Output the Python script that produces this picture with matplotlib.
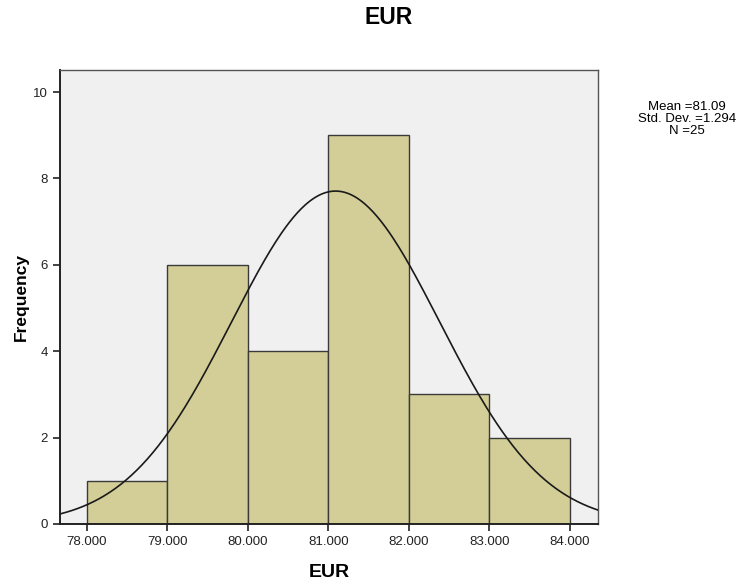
import numpy as np
import matplotlib.pyplot as plt

bin_edges = [78.0, 79.0, 80.0, 81.0, 82.0, 83.0, 84.0]
counts = [1, 6, 4, 9, 3, 2]
mean = 81.09
std = 1.294
n = 25
x_ticks = [78, 79, 80, 81, 82, 83, 84]
x_tick_labels = ["78.000", "79.000", "80.000", "81.000", "82.000", "83.000", "84.000"]
y_ticks = [0, 2, 4, 6, 8, 10]


def main() -> None:
    plt.rcParams["font.family"] = ["Liberation Sans", "DejaVu Sans"]
    fig = plt.figure(figsize=(7.45, 5.85), dpi=100)
    ax = fig.add_axes([0.0805, 0.1043, 0.7221, 0.776])
    ax.set_facecolor("#F0F0F0")

    lefts = bin_edges[:-1]
    widths = np.diff(bin_edges)
    ax.bar(lefts, counts, width=widths, align="edge", color="#D3CE97",
           edgecolor="#3A3A3A", linewidth=1.0, zorder=2)

    # normal curve scaled to counts
    xs = np.linspace(77.665, 84.35, 400)
    bw = bin_edges[1] - bin_edges[0]
    ys = n * bw / (std * np.sqrt(2 * np.pi)) * np.exp(-0.5 * ((xs - mean) / std) ** 2)
    ax.plot(xs, ys, color="#1A1A1A", linewidth=1.2, zorder=3)

    ax.set_xlim(77.665, 84.35)
    ax.set_ylim(0, 10.51)
    ax.set_xticks(x_ticks)
    ax.set_xticklabels(x_tick_labels)
    ax.set_yticks(y_ticks)
    ax.tick_params(axis="both", direction="out", length=5, width=1.2,
                   labelsize=9.5, colors="#222222")
    for side in ["left", "bottom"]:
        ax.spines[side].set_color("#222222")
        ax.spines[side].set_linewidth(1.4)
    for side in ["top", "right"]:
        ax.spines[side].set_color("#555555")
        ax.spines[side].set_linewidth(1.0)

    ax.set_xlabel("EUR", fontsize=14, fontweight="bold", labelpad=12)
    ax.set_ylabel("Frequency", fontsize=12.5, fontweight="bold", labelpad=3)
    fig.text(389 / 745, 1 - 18 / 585, "EUR", ha="center", va="center",
             fontsize=16.5, fontweight="bold")

    fig.text(687 / 745, 1 - 119 / 585, "Mean =81.09\nStd. Dev. =1.294\nN =25",
             ha="center", va="center", fontsize=9.5, linespacing=1.0)

    fig.savefig("out.png", dpi=100)


if __name__ == "__main__":
    main()
